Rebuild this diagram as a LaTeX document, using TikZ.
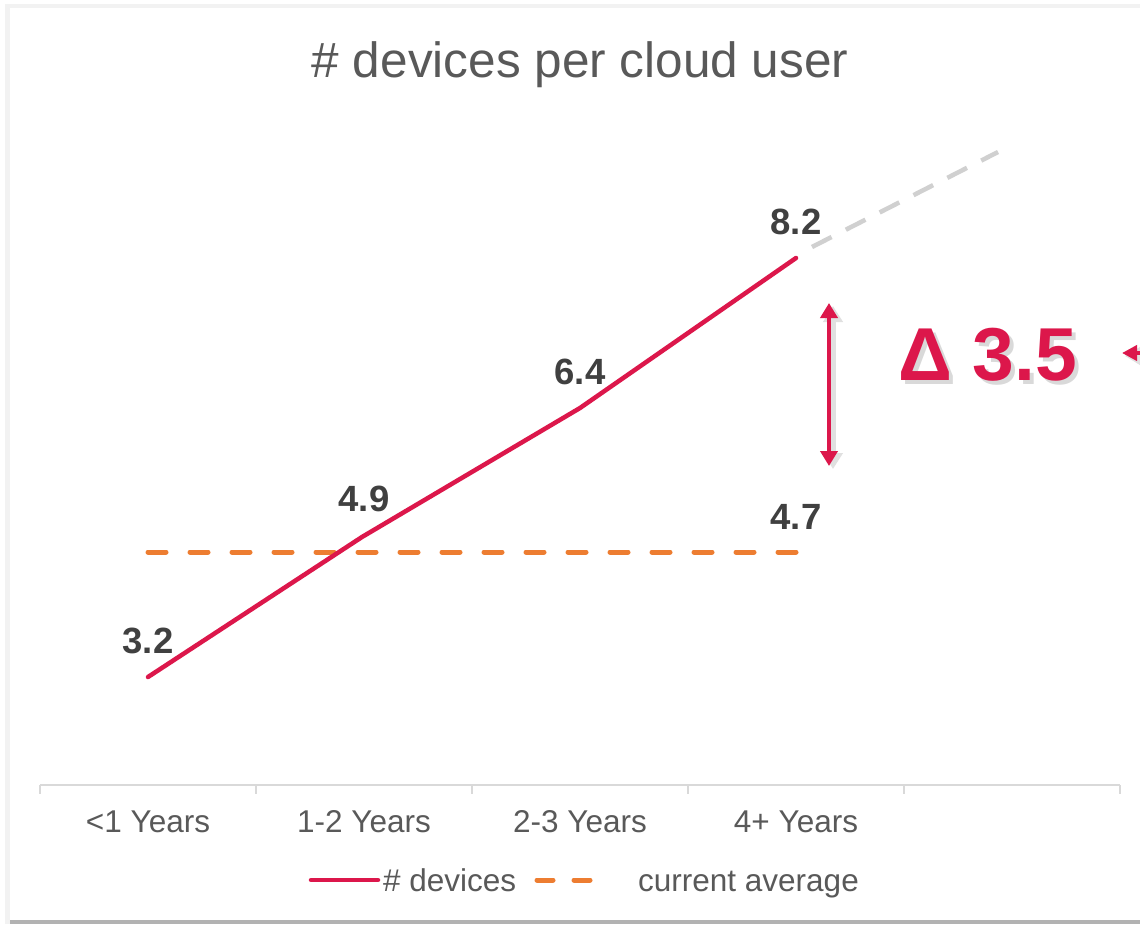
\documentclass[tikz,border=0pt]{standalone}
\usepackage{fontspec}
\setmainfont{Liberation Sans}
\usetikzlibrary{arrows.meta}
\definecolor{crim}{HTML}{DC174B}
\definecolor{orng}{HTML}{ED7D31}
\definecolor{lgray}{HTML}{D0D0D0}
\definecolor{axisc}{HTML}{D9D9D9}
\definecolor{txt}{HTML}{595959}
\definecolor{dtxt}{HTML}{404040}
\tikzset{
  x=1pt, y=-1pt,
  axlabel/.style={anchor=base, text=txt, font=\fontsize{31.5}{36}\selectfont, inner sep=0pt},
  datalabel/.style={anchor=base, text=dtxt, font=\bfseries\fontsize{36.5}{42}\selectfont, inner sep=0pt},
  redline/.style={draw=crim, line width=4.5pt, line cap=round, line join=round},
  orngdash/.style={draw=orng, line width=5pt, line cap=round, dash pattern=on 18pt off 24pt},
  graydash/.style={draw=lgray, line width=4.5pt, dash pattern=on 22pt off 16pt},
  arr/.style={draw=crim, line width=4pt, {Triangle[width=17pt,length=15pt]}-{Triangle[width=17pt,length=15pt]}},
  shadowarr/.style={draw=black!12, line width=5pt, {Triangle[width=19pt,length=16pt]}-{Triangle[width=19pt,length=16pt]}},
}
\begin{document}
\begin{tikzpicture}
\useasboundingbox (0,0) rectangle (1140,924);
\fill[white] (0,0) rectangle (1140,924);
% frame
\fill[black!5] (5,4) rectangle (1140,8);
\fill[black!5] (5,4) rectangle (10,924);
\fill[black!30] (10,920) rectangle (1140,924);
% title
\node[anchor=base, text=txt, font=\fontsize{49.5}{56}\selectfont, inner sep=0pt] (title) at (580,77) {\# devices per cloud user};
% axis
\draw[axisc, line width=2pt] (40,785) -- (1120,785);
\foreach \x in {40,256,472,688,904,1120} \draw[axisc, line width=2pt] (\x,785) -- (\x,794);
\node[axlabel] (c1) at (148,832) {<1 Years};
\node[axlabel] (c2) at (364,832) {1-2 Years};
\node[axlabel] (c3) at (580,832) {2-3 Years};
\node[axlabel] (c4) at (796,832) {4+ Years};
% series points
\coordinate (p1) at (148,677);
\coordinate (p2) at (362,537);
\coordinate (p3) at (580,408);
\coordinate (p4) at (796,258);
\coordinate (a1) at (148,552);
\coordinate (a4) at (796,552);
\coordinate (g1) at (812,247);
\coordinate (g2) at (998,152);
% gray extension
\draw[graydash] (g1) -- (g2);
% average
\draw[orngdash] (a1) -- (a4);
% devices
\draw[redline] (p1) -- (p2) -- (p3) -- (p4);
% data labels
\node[datalabel] (l1) at (148,653) {3.2};
\node[datalabel] (l2) at (364,511) {4.9};
\node[datalabel] (l3) at (580,384) {6.4};
\node[datalabel] (l4) at (796,234) {8.2};
\node[datalabel] (l5) at (796,529) {4.7};
% delta arrow with shadow
\coordinate (d1) at (829,303);
\coordinate (d2) at (829,466);
\draw[shadowarr] ([shift={(4,3)}]d1) -- ([shift={(4,3)}]d2);
\draw[arr] (d1) -- (d2);
% delta text with shadow
\node[anchor=base west, inner sep=0pt, text=black, opacity=0.15, font=\bfseries\fontsize{75}{82}\selectfont] (deltashadow) at (902,384) {Δ 3.5};
\node[anchor=base west, inner sep=0pt, text=crim, font=\bfseries\fontsize{75}{82}\selectfont] (delta) at (898,380) {Δ 3.5};
% pointer arrow at right edge
\coordinate (r1) at (1122,353);
\coordinate (r2) at (1160,353);
\draw[draw=black!12, line width=4pt, -{Triangle[width=17pt,length=15pt]}] ([shift={(3,3)}]r2) -- ([shift={(3,3)}]r1);
\draw[draw=crim, line width=4pt, -{Triangle[width=15pt,length=15pt]}] (r2) -- (r1);
% legend
\coordinate (lg1) at (311,880);
\coordinate (lg2) at (378,880);
\draw[redline] (lg1) -- (lg2);
\node[anchor=base west, text=txt, font=\fontsize{31.5}{36}\selectfont, inner sep=0pt] (leg1) at (383,891) {\# devices};
\coordinate (lo1) at (537,880);
\coordinate (lo2) at (592,880);
\draw[draw=orng, line width=5pt, line cap=round, dash pattern=on 16pt off 21pt] (lo1) -- (lo2);
\node[anchor=base west, text=txt, font=\fontsize{31.5}{36}\selectfont, inner sep=0pt] (leg2) at (638,891) {current average};
\end{tikzpicture}
\end{document}
